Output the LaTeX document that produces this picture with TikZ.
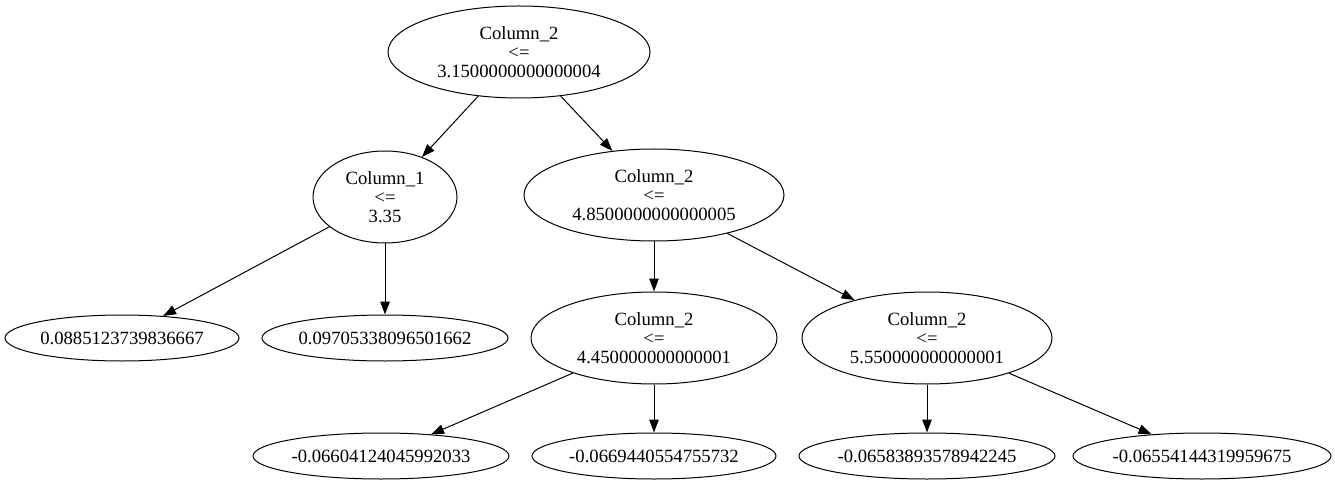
\documentclass[tikz,border=0pt]{standalone}
\usepackage{fontspec}
\setmainfont{Liberation Serif}
\usetikzlibrary{shapes.geometric,arrows.meta}
\begin{document}
\begin{tikzpicture}[x=1pt,y=-1pt,
  every label/.style={font=\fontsize{18.67}{19}\selectfont, align=center, inner sep=0pt},
  tnode/.style={draw, ellipse, line width=1pt, inner sep=0pt, minimum height=92pt},
  leafnode/.style={draw, ellipse, line width=1pt, inner sep=0pt, minimum height=46pt},
  edge/.style={line width=1pt, -{Triangle[length=13pt,width=9.5pt]}}]
\useasboundingbox (0,0) rectangle (1335,486);
% internal nodes
\node[tnode, minimum width=262pt, label={center:Column\_2\\<=\\3.1500000000000004}] (r) at (519,52) {};
\node[tnode, minimum width=144pt, label={center:Column\_1\\<=\\3.35}] (c1) at (385,197) {};
\node[tnode, minimum width=260pt, label={center:Column\_2\\<=\\4.8500000000000005}] (c2) at (654,195) {};
\node[tnode, minimum width=246pt, label={center:Column\_2\\<=\\4.450000000000001}] (c3) at (654,338) {};
\node[tnode, minimum width=250pt, label={center:Column\_2\\<=\\5.550000000000001}] (c4) at (927,338) {};
% leaves
\node[leafnode, minimum width=234pt, label={center:0.0885123739836667}] (l1) at (122,338) {};
\node[leafnode, minimum width=246pt, label={center:0.09705338096501662}] (l2) at (385,338) {};
\node[leafnode, minimum width=256pt, label={center:-0.06604124045992033}] (l3) at (381,456) {};
\node[leafnode, minimum width=244pt, label={center:-0.0669440554755732}] (l4) at (654,456) {};
\node[leafnode, minimum width=256pt, label={center:-0.06583893578942245}] (l5) at (927,456) {};
\node[leafnode, minimum width=258pt, label={center:-0.06554144319959675}] (l6) at (1202,456) {};
% edges
\draw[edge] (r) -- (c1);
\draw[edge] (r) -- (c2);
\draw[edge] (c1) -- (l1);
\draw[edge] (c1) -- (l2);
\draw[edge] (c2) -- (c3);
\draw[edge] (c2) -- (c4);
\draw[edge] (c3) -- (l3);
\draw[edge] (c3) -- (l4);
\draw[edge] (c4) -- (l5);
\draw[edge] (c4) -- (l6);
\end{tikzpicture}
\end{document}
